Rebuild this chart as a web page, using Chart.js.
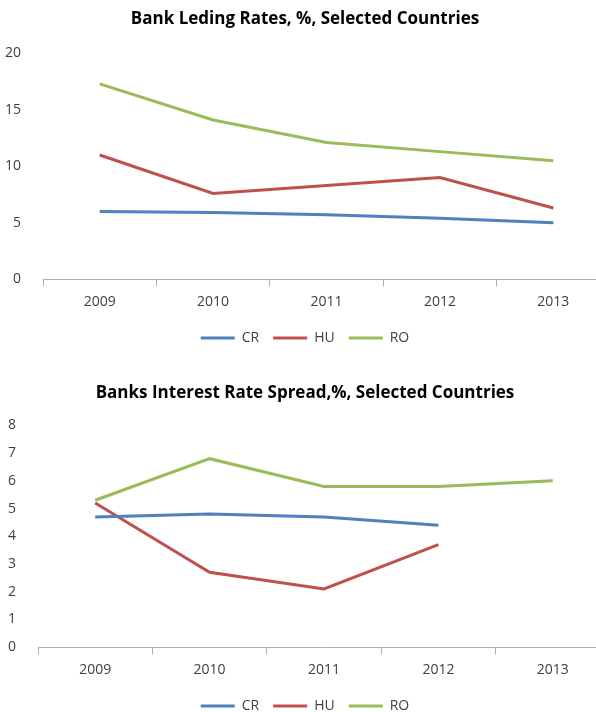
<!DOCTYPE html>
<html lang="en">
  <head>
    <meta charset="UTF-8">
    <script src="https://cdn.jsdelivr.net/npm/chart.js"></script>
    <style>
      body { margin: 0; background: #fff; overflow: hidden; }
      .box { position: absolute; left: 0; width: 610px; }
      #box1 { top: 0; height: 357px; }
      #box2 { top: 374px; height: 351px; }
    </style>
  </head>
  <body>
    <div class="box" id="box1"><canvas id="lending"></canvas></div>
    <div class="box" id="box2"><canvas id="spread"></canvas></div>
    <script>
      const years = ['2009', '2010', '2011', '2012', '2013'];
      const seriesNames = ['CR', 'HU', 'RO'];
      const seriesColors = ['#4F81BD', '#C0504D', '#9BBB59'];

      // lending rates, %
      const lendCR = [6.0, 5.9, 5.7, 5.4, 5.0];
      const lendHU = [11.0, 7.6, 8.3, 9.0, 6.3];
      const lendRO = [17.3, 14.1, 12.1, 11.3, 10.5];

      // interest rate spread, % (no 2013 value for CR and HU)
      const spreadCR = [4.7, 4.8, 4.7, 4.4, null];
      const spreadHU = [5.2, 2.7, 2.1, 3.7, null];
      const spreadRO = [5.3, 6.8, 5.8, 5.8, 6.0];

      const lendTicks = [0, 5, 10, 15, 20];
      const spreadTicks = [0, 1, 2, 3, 4, 5, 6, 7, 8];

      const FONT = 'Open Sans';
      const TEXT = '#404040';

      function makeChart(id, title, rows, ticks, axisWidth, titleGap) {
        const datasets = rows.map((d, i) => ({
          label: seriesNames[i],
          data: d,
          borderColor: seriesColors[i],
          backgroundColor: seriesColors[i],
          borderWidth: 3,
          pointRadius: 0,
          tension: 0,
          spanGaps: false
        }));
        return new Chart(document.getElementById(id), {
          type: 'line',
          data: { labels: years, datasets: datasets },
          options: {
            responsive: true,
            maintainAspectRatio: false,
            animation: false,
            layout: { padding: { top: 0, bottom: 2, left: 0, right: 0 } },
            plugins: {
              title: {
                display: true,
                text: title,
                color: '#000',
                font: { family: FONT, size: 17, weight: 'bold' },
                padding: { top: 9, bottom: titleGap }
              },
              legend: {
                position: 'bottom',
                labels: {
                  usePointStyle: true,
                  pointStyle: 'line',
                  pointStyleWidth: 34,
                  boxWidth: 34,
                  color: TEXT,
                  font: { family: FONT, size: 14 },
                  padding: 14
                }
              },
              tooltip: { enabled: false }
            },
            scales: {
              x: {
                offset: true,
                grid: {
                  offset: true,
                  drawOnChartArea: false,
                  drawTicks: true,
                  tickLength: 7,
                  color: '#b0b0b0'
                },
                border: { display: true, color: '#b0b0b0', width: 1 },
                ticks: { color: TEXT, font: { family: FONT, size: 14 }, padding: 7, maxRotation: 0 }
              },
              y: {
                min: ticks[0],
                max: ticks[ticks.length - 1],
                afterBuildTicks: (s) => { s.ticks = ticks.map(v => ({ value: v })); },
                afterFit: (s) => { s.width = axisWidth; },
                grid: { display: false },
                border: { display: false },
                ticks: { color: TEXT, font: { family: FONT, size: 14 }, padding: 14 }
              }
            }
          }
        });
      }

      makeChart('lending', 'Bank Leding Rates, %, Selected Countries',
        [lendCR, lendHU, lendRO], lendTicks, 43, 24);
      makeChart('spread', 'Banks Interest Rate Spread,%, Selected Countries',
        [spreadCR, spreadHU, spreadRO], spreadTicks, 38, 22);
    </script>
  </body>
</html>
